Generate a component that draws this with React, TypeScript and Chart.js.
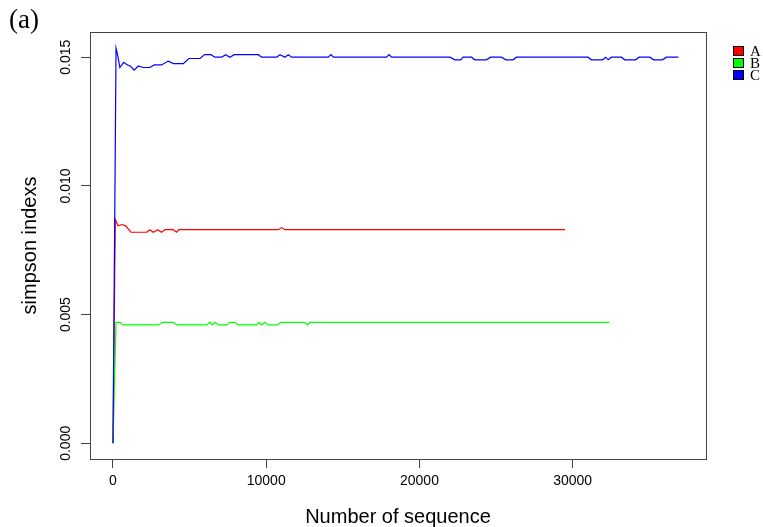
import React, { useEffect, useRef } from "react";
import { Chart, registerables } from "chart.js";

Chart.register(...registerables);

const seriesNames = ["A", "B", "C"];
const seriesColors = ["#ff0000", "#00ff00", "#0000ff"];

const xTicks = [0, 10000, 20000, 30000];
const yTicks = [0, 0.005, 0.01, 0.015];

const aX = [0, 150, 330, 570, 830, 1170, 2200, 2410, 2630, 2910, 3170, 3390, 3930, 4150, 4300, 10790, 11000, 11220, 29500];
const aY = [0, 0.0087, 0.00845, 0.0085, 0.00845, 0.0082, 0.0082, 0.0083, 0.0082, 0.0083, 0.0082, 0.0083, 0.0083, 0.0082, 0.0083, 0.0083, 0.00838, 0.0083, 0.0083];

const bX = [0, 200, 450, 650, 2960, 3220, 3930, 4150, 6110, 6330, 6480, 6650, 6870, 7420, 7630, 7960, 8170, 9370, 9520, 9700, 9920, 10130, 10740, 10960, 12480, 12700, 12850, 32400];
const bY = [0, 0.0047, 0.0047, 0.0046, 0.0046, 0.0047, 0.0047, 0.0046, 0.0046, 0.0047, 0.0046, 0.0047, 0.0046, 0.0046, 0.0047, 0.0047, 0.0046, 0.0046, 0.0047, 0.0046, 0.0047, 0.0046, 0.0046, 0.0047, 0.0047, 0.0046, 0.0047, 0.0047];

const cX = [0, 200, 300, 450, 700, 950, 1150, 1380, 1650, 1980, 2400, 2700, 3170, 3600, 3950, 4590, 4950, 5680, 5980, 6390, 6650, 7090, 7350, 7630, 7910, 9480, 9700, 10680, 10900, 11220, 11440, 11660, 14050, 14220, 14380, 17850, 18020, 18180, 22000, 22310, 22700, 22850, 23400, 23610, 24370, 24640, 25350, 25640, 26110, 26330, 31000, 31220, 31940, 32160, 32310, 32530, 33180, 33400, 34110, 34330, 35030, 35290, 35860, 36120, 36900];
const cY = [0, 0.01535, 0.0151, 0.0146, 0.0148, 0.0147, 0.01465, 0.0145, 0.01466, 0.0146, 0.0146, 0.0147, 0.0147, 0.01485, 0.01475, 0.01475, 0.01495, 0.01495, 0.0151, 0.0151, 0.015, 0.015, 0.0151, 0.015, 0.0151, 0.0151, 0.015, 0.015, 0.0151, 0.015, 0.0151, 0.015, 0.015, 0.0151, 0.015, 0.015, 0.0151, 0.015, 0.015, 0.0149, 0.0149, 0.015, 0.015, 0.0149, 0.0149, 0.015, 0.015, 0.0149, 0.0149, 0.015, 0.015, 0.0149, 0.0149, 0.015, 0.0149, 0.015, 0.015, 0.0149, 0.0149, 0.015, 0.015, 0.0149, 0.0149, 0.015, 0.015];

const toPoints = (xs: number[], ys: number[]) => xs.map((x, i) => ({ x, y: ys[i] }));

const W = 763;
const H = 527;

const extrasPlugin = {
  id: "extras",
  afterDraw(chart: any) {
    const { ctx, chartArea } = chart;
    const ys = chart.scales.y;
    ctx.save();
    // box
    ctx.strokeStyle = "#444";
    ctx.lineWidth = 1;
    ctx.strokeRect(
      Math.round(chartArea.left) + 0.5,
      Math.round(chartArea.top) + 0.5,
      Math.round(chartArea.right - chartArea.left),
      Math.round(chartArea.bottom - chartArea.top)
    );
    // rotated y tick labels
    ctx.fillStyle = "#000";
    ctx.font = "14px 'Liberation Sans', Arial, sans-serif";
    ctx.textAlign = "center";
    ctx.textBaseline = "middle";
    ys.ticks.forEach((t: any) => {
      const py = ys.getPixelForValue(t.value);
      ctx.save();
      ctx.translate(chartArea.left - 24, py);
      ctx.rotate(-Math.PI / 2);
      ctx.fillText(Number(t.value).toFixed(3), 0, 0);
      ctx.restore();
    });
    // panel label
    ctx.font = "27px 'Liberation Serif', 'DejaVu Serif', serif";
    ctx.textAlign = "left";
    ctx.textBaseline = "middle";
    ctx.fillText("(a)", 9, 21);
    // legend
    ctx.font = "15px 'Liberation Serif', serif";
    seriesNames.forEach((name, i) => {
      const cy = 51 + i * 12;
      const lx = chartArea.right + 27;
      ctx.fillStyle = seriesColors[i];
      ctx.fillRect(lx, cy - 5, 11, 10);
      ctx.strokeStyle = "#000";
      ctx.strokeRect(lx + 0.5, cy - 4.5, 10, 9);
      ctx.fillStyle = "#000";
      ctx.fillText(name, lx + 17, cy + 1);
    });
    ctx.restore();
  },
};

export default function App() {
  const ref = useRef<HTMLCanvasElement>(null);
  useEffect(() => {
    if (!ref.current) return;
    const chart = new Chart(ref.current, {
      type: "line",
      data: {
        datasets: [
          { label: seriesNames[0], data: toPoints(aX, aY), borderColor: seriesColors[0], order: 3 },
          { label: seriesNames[1], data: toPoints(bX, bY), borderColor: seriesColors[1], order: 2 },
          { label: seriesNames[2], data: toPoints(cX, cY), borderColor: seriesColors[2], order: 1 },
        ],
      },
      options: {
        responsive: false,
        animation: false,
        parsing: false as any,
        layout: { padding: { left: 0, top: 32, right: 57, bottom: 0 } },
        elements: {
          line: { borderWidth: 1.2, tension: 0, fill: false },
          point: { radius: 0, hoverRadius: 0 },
        },
        plugins: {
          legend: { display: false },
          tooltip: { enabled: false },
          title: { display: false },
        },
        scales: {
          x: {
            type: "linear",
            min: -1500,
            max: 38700,
            afterBuildTicks: (s: any) => {
              s.ticks = xTicks.map((v) => ({ value: v }));
            },
            afterFit: (s: any) => {
              s.height = 68;
            },
            grid: {
              drawOnChartArea: false,
              drawTicks: true,
              tickLength: 9,
              color: "#444",
            },
            border: { display: false },
            ticks: {
              color: "#000",
              padding: 5,
              maxRotation: 0,
              autoSkip: false,
              font: { size: 14, family: "'Liberation Sans', Arial, sans-serif" },
              callback: (v: any) => String(v),
            },
            title: {
              display: true,
              text: "Number of sequence",
              color: "#000",
              font: { size: 20, family: "'Liberation Sans', Arial, sans-serif", lineHeight: 1 },
              padding: { top: 0, bottom: 0 },
            },
          },
          y: {
            type: "linear",
            min: -0.00061,
            max: 0.01598,
            afterBuildTicks: (s: any) => {
              s.ticks = yTicks.map((v) => ({ value: v }));
            },
            afterFit: (s: any) => {
              s.width = 90;
            },
            grid: {
              drawOnChartArea: false,
              drawTicks: true,
              tickLength: 9,
              color: "#444",
            },
            border: { display: false },
            ticks: {
              display: false,
            },
            title: {
              display: true,
              text: "simpson indexs",
              color: "#000",
              font: { size: 20, family: "'Liberation Sans', Arial, sans-serif", lineHeight: 1 },
              padding: { top: 20, bottom: 0 },
            },
          },
        },
      },
      plugins: [extrasPlugin],
    });
    return () => chart.destroy();
  }, []);
  return (
    <div style={{ position: "fixed", left: 0, top: 0, width: W, height: H, background: "#fff" }}>
      <canvas ref={ref} width={W} height={H} style={{ display: "block", width: W, height: H }} />
    </div>
  );
}
